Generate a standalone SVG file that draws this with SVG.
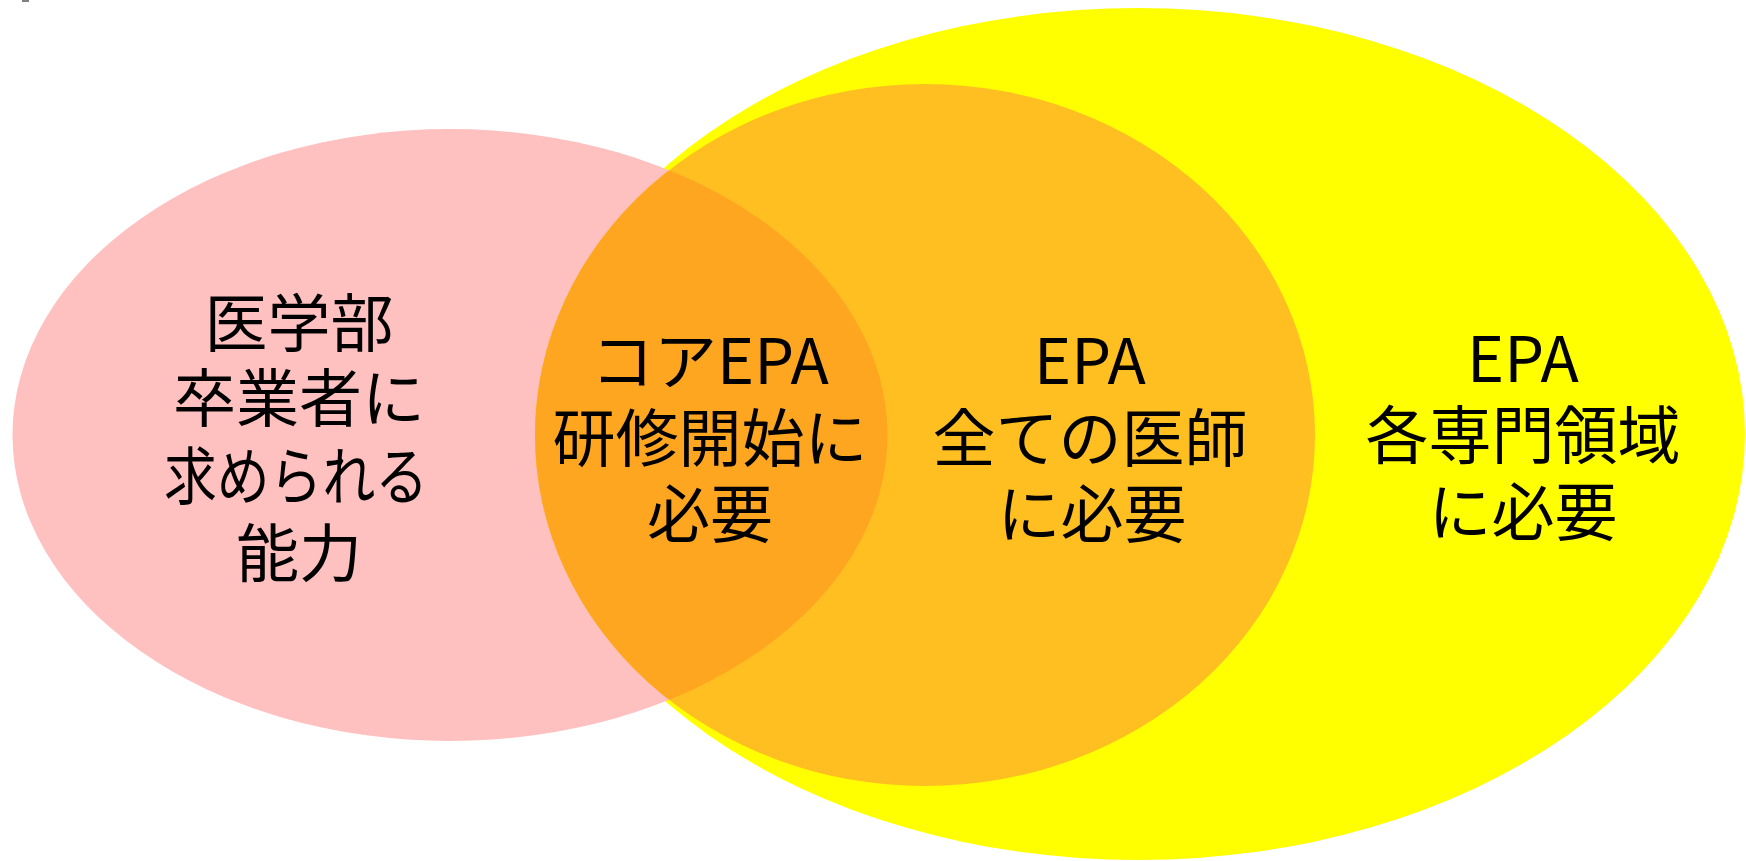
<svg xmlns="http://www.w3.org/2000/svg" width="1746" height="861" viewBox="0 0 1746 861">
<style>
.t{font-family:"Noto Sans CJK JP","Noto Sans",sans-serif;font-size:63px;fill:#000;text-anchor:middle}
</style>
<defs>
<clipPath id="orangeClip"><ellipse cx="925" cy="435" rx="390" ry="351"/></clipPath>
</defs>
<rect width="1746" height="861" fill="#fff"/>
<rect x="22" y="0" width="7" height="2" fill="#808080"/>
<g id="specialty">
<ellipse cx="1138" cy="434" rx="607" ry="426" fill="#FFFF00"/>
</g>
<g id="graduate">
<ellipse cx="450" cy="435" rx="437.5" ry="306" fill="#FFC0C0"/>
</g>
<g id="allDoctors">
<ellipse cx="925" cy="435" rx="390" ry="351" fill="#FFBF20"/>
</g>
<g id="core">
<ellipse cx="450" cy="435" rx="437.5" ry="306" fill="#FFA621" clip-path="url(#orangeClip)"/>
</g>
<g id="connectors"></g>
<g id="labels">
<text class="t" x="299" y="346">医学部</text>
<text class="t" x="299" y="421">卒業者に</text>
<text class="t" x="296" y="499" textLength="264" lengthAdjust="spacingAndGlyphs">求められる</text>
<text class="t" x="299" y="576">能力</text>
<text class="t" x="710" y="384">コアEPA</text>
<text class="t" x="710" y="461">研修開始に</text>
<text class="t" x="710" y="537">必要</text>
<text class="t" x="1090" y="384">EPA</text>
<text class="t" x="1090" y="461">全ての医師</text>
<text class="t" x="1092" y="537">に必要</text>
<text class="t" x="1523" y="382">EPA</text>
<text class="t" x="1523" y="458">各専門領域</text>
<text class="t" x="1523" y="535">に必要</text>
</g>
</svg>
